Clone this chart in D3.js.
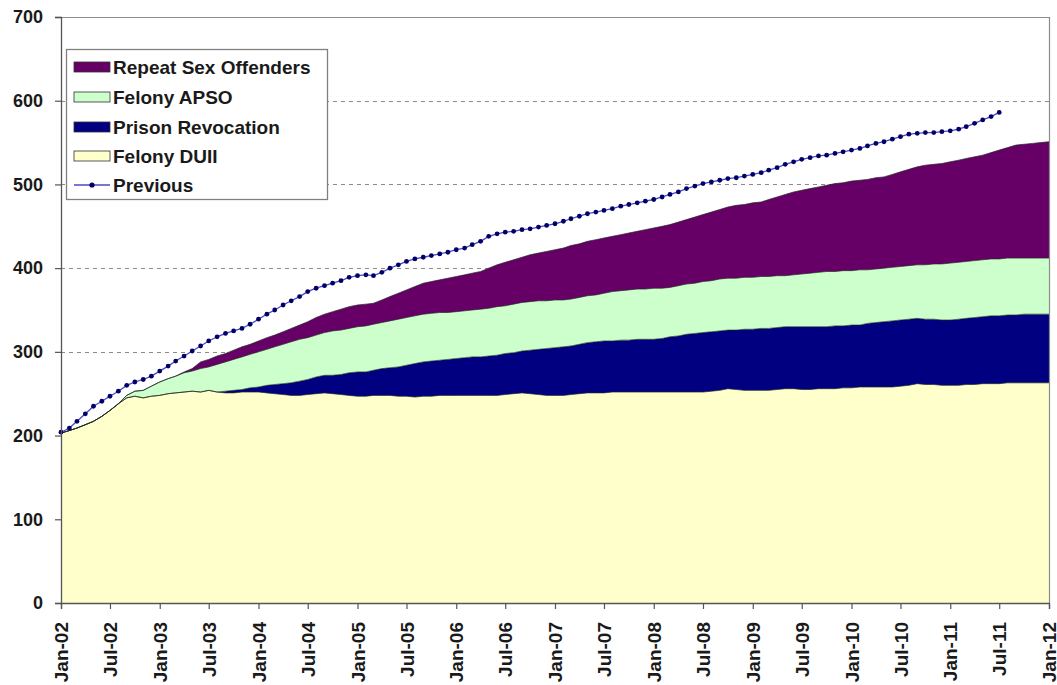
<!DOCTYPE html>
<html>
<head>
<meta charset="utf-8">
<script src="https://cdn.jsdelivr.net/npm/d3@7"></script>
<style>
  html, body { margin: 0; padding: 0; background: #fff; }
  svg { display: block; }
  text { font-family: "Liberation Sans", Arial, sans-serif; fill: #1a1a1a; }
</style>
</head>
<body>
<svg id="chart" width="1057" height="685"></svg>
<script>
// Monthly population, Jan 2002 – Jan 2012 (121 months)
const startYear = 2002;
const monthCount = 121;

const feloniesDUII = [
  203, 206, 209, 213, 217, 223, 230, 238, 245, 247, 245, 247,
  248, 250, 251, 252, 253, 252, 254, 252, 251, 251, 252, 252,
  252, 251, 250, 249, 248, 248, 249, 250, 251, 250, 249, 248,
  247, 247, 248, 248, 248, 247, 247, 246, 247, 247, 248, 248,
  248, 248, 248, 248, 248, 248, 249, 250, 251, 250, 249, 248,
  248, 248, 249, 250, 251, 251, 251, 252, 252, 252, 252, 252,
  252, 252, 252, 252, 252, 252, 252, 253, 254, 256, 255, 254,
  254, 254, 254, 255, 256, 256, 255, 255, 256, 256, 256, 257,
  257, 258, 258, 258, 258, 258, 259, 260, 262, 261, 261, 260,
  260, 260, 261, 261, 262, 262, 262, 263, 263, 263, 263, 263, 263
];

const prisonRevocation = [
  0, 0, 0, 0, 0, 0, 0, 0, 0, 0, 0, 0,
  0, 0, 0, 0, 0, 0, 0, 0, 2, 3, 3, 5,
  6, 9, 11, 13, 15, 17, 18, 20, 21, 22, 24, 27,
  29, 29, 30, 32, 33, 35, 37, 40, 41, 42, 42, 43,
  44, 45, 46, 46, 47, 48, 49, 49, 50, 52, 54, 56,
  57, 58, 58, 59, 60, 61, 62, 61, 62, 62, 63, 63,
  63, 64, 66, 67, 69, 70, 71, 71, 71, 70, 71, 73,
  73, 74, 74, 74, 74, 74, 75, 75, 74, 74, 75, 74,
  75, 74, 76, 77, 78, 79, 79, 79, 78, 78, 78, 78,
  78, 79, 79, 80, 80, 81, 81, 81, 81, 82, 82, 82, 82
];

const felonyAPSO = [
  0, 0, 0, 0, 0, 0, 0, 0, 3, 6, 9, 12,
  16, 18, 20, 23, 24, 28, 28, 33, 35, 37, 39, 40,
  42, 43, 45, 47, 49, 50, 50, 50, 51, 53, 53, 53,
  54, 55, 55, 55, 56, 57, 57, 57, 57, 57, 57, 56,
  56, 56, 56, 57, 57, 58, 57, 58, 58, 58, 58, 57,
  57, 56, 56, 56, 56, 56, 57, 59, 59, 60, 60, 60,
  61, 60, 59, 60, 60, 60, 61, 61, 62, 62, 62, 62,
  62, 62, 62, 62, 61, 62, 63, 64, 65, 66, 65, 66,
  65, 66, 64, 64, 64, 64, 64, 64, 64, 65, 66, 67,
  68, 68, 68, 68, 68, 68, 68, 68, 68, 67, 67, 67, 67
];

const repeatSexOffenders = [
  0, 0, 0, 0, 0, 0, 0, 0, 0, 0, 0, 0,
  0, 0, 0, 1, 3, 8, 9, 10, 10, 11, 12, 12,
  13, 14, 14, 15, 16, 17, 19, 21, 22, 23, 25, 26,
  26, 26, 25, 27, 29, 31, 33, 35, 37, 38, 39, 41,
  42, 43, 44, 45, 48, 50, 52, 53, 54, 56, 57, 59,
  60, 62, 64, 64, 65, 66, 66, 66, 67, 68, 69, 71,
  72, 74, 75, 76, 77, 79, 80, 82, 83, 85, 87, 87,
  89, 89, 92, 94, 97, 99, 100, 101, 102, 103, 105, 105,
  107, 107, 108, 109, 109, 111, 113, 115, 117, 119, 119, 120,
  121, 122, 123, 124, 125, 127, 130, 132, 135, 136, 137, 138, 139
];

// Earlier projection, Jan 2002 – Jul 2011
const previous = [
  204, 209, 217, 226, 235, 241, 247, 253, 260, 264, 267, 271,
  277, 283, 289, 295, 301, 307, 313, 318, 322, 325, 328, 333,
  339, 345, 350, 356, 361, 366, 372, 376, 379, 382, 385, 389,
  391, 392, 391, 395, 400, 404, 408, 411, 413, 415, 417, 419,
  422, 424, 428, 432, 438, 441, 443, 444, 446, 447, 449, 451,
  453, 456, 459, 462, 465, 467, 469, 471, 474, 476, 478, 480,
  482, 485, 488, 491, 495, 498, 501, 503, 505, 507, 508, 510,
  512, 514, 517, 520, 524, 527, 530, 532, 534, 535, 537, 539,
  541, 543, 546, 549, 551, 554, 557, 560, 561, 562, 562, 563,
  564, 566, 569, 573, 577, 581, 586
];

const xTickLabels = [
  "Jan-02", "Jul-02", "Jan-03", "Jul-03", "Jan-04", "Jul-04", "Jan-05",
  "Jul-05", "Jan-06", "Jul-06", "Jan-07", "Jul-07", "Jan-08", "Jul-08",
  "Jan-09", "Jul-09", "Jan-10", "Jul-10", "Jan-11", "Jul-11", "Jan-12"
];
const yTicks = [0, 100, 200, 300, 400, 500, 600, 700];

const seriesKeys = ["duii", "prison", "apso", "rso"];
const seriesNames = {
  rso: "Repeat Sex Offenders",
  apso: "Felony APSO",
  prison: "Prison Revocation",
  duii: "Felony DUII"
};
const seriesColors = {
  duii: "#ffffcc",
  prison: "#000080",
  apso: "#ccffcc",
  rso: "#660066"
};
const previousColor = "#4a4ac8";
const markerColor = "#000066";

// ---- build rows ----
const months = d3.range(monthCount).map(i => new Date(startYear, i, 1));
const rows = months.map((date, i) => ({
  date,
  duii: feloniesDUII[i],
  prison: prisonRevocation[i],
  apso: felonyAPSO[i],
  rso: repeatSexOffenders[i]
}));
const previousRows = previous.map((v, i) => ({ date: months[i], value: v }));

const svg = d3.select("#chart");
const plotLeft = 61, plotRight = 1049, plotTop = 17, plotBottom = 603;

const x = d3.scaleTime()
  .domain([months[0], months[monthCount - 1]])
  .range([plotLeft, plotRight]);
const y = d3.scaleLinear().domain([0, 700]).range([plotBottom, plotTop]);

// gridlines
svg.append("g")
  .selectAll("line")
  .data(yTicks.filter(v => v > 0 && v < 700))
  .join("line")
  .attr("x1", plotLeft).attr("x2", plotRight)
  .attr("y1", d => Math.round(y(d)) + 0.5).attr("y2", d => Math.round(y(d)) + 0.5)
  .attr("stroke", "#8a8a8a")
  .attr("stroke-width", 1.2)
  .attr("stroke-dasharray", "4,4");

// stacked areas
const stacked = d3.stack().keys(seriesKeys)(rows);
const area = d3.area()
  .x(d => x(d.data.date))
  .y0(d => y(d[0]))
  .y1(d => y(d[1]));
const edge = d3.line()
  .x(d => x(d.data.date))
  .y(d => y(d[1]));

const layers = svg.append("g");
layers.selectAll("path.area")
  .data(stacked)
  .join("path")
  .attr("class", "area")
  .attr("fill", d => seriesColors[d.key])
  .attr("d", area);
layers.selectAll("path.edge")
  .data(stacked)
  .join("path")
  .attr("class", "edge")
  .attr("fill", "none")
  .attr("stroke", "#1e2a1e")
  .attr("stroke-width", 0.8)
  .attr("stroke-opacity", 0.85)
  .attr("d", edge);

// plot frame (top and right)
svg.append("path")
  .attr("d", `M${plotLeft},${plotTop + 0.5}H${plotRight + 0.5}V${plotBottom}`)
  .attr("fill", "none")
  .attr("stroke", "#8c8c8c")
  .attr("stroke-width", 1.2);

// previous projection
const prevLine = d3.line().x(d => x(d.date)).y(d => y(d.value));
svg.append("path")
  .datum(previousRows)
  .attr("fill", "none")
  .attr("stroke", previousColor)
  .attr("stroke-width", 1.3)
  .attr("d", prevLine);
svg.append("g")
  .selectAll("circle")
  .data(previousRows)
  .join("circle")
  .attr("cx", d => x(d.date))
  .attr("cy", d => y(d.value))
  .attr("r", 2.4)
  .attr("fill", markerColor);

// y axis
const yAxis = svg.append("g")
  .attr("transform", `translate(${plotLeft},0)`)
  .call(d3.axisLeft(y).tickValues(yTicks).tickSize(6).tickPadding(12).tickFormat(d3.format("d")));
yAxis.select(".domain").attr("stroke", "#555").attr("stroke-width", 1.3);
yAxis.selectAll(".tick line").attr("stroke", "#555").attr("stroke-width", 1.2);
yAxis.selectAll("text")
  .attr("font-size", 18)
  .attr("font-weight", "bold")
  .attr("fill", "#1a1a1a");

// x axis
const parseTick = d3.timeParse("%b-%y");
const xTickDates = xTickLabels.map(parseTick);
const xAxis = svg.append("g")
  .attr("transform", `translate(0,${plotBottom})`)
  .call(d3.axisBottom(x).tickValues(xTickDates).tickSize(6).tickFormat(d3.timeFormat("%b-%y")));
xAxis.select(".domain").attr("stroke", "#555").attr("stroke-width", 1.3);
xAxis.selectAll(".tick line").attr("stroke", "#555").attr("stroke-width", 1.2);
xAxis.selectAll("text")
  .attr("font-size", 19)
  .attr("font-weight", "bold")
  .attr("fill", "#1a1a1a")
  .attr("text-anchor", "end")
  .attr("transform", "translate(0,19) rotate(-90)")
  .attr("x", 0).attr("y", 0)
  .attr("dy", "0.35em");

// legend
const legend = svg.append("g");
legend.append("rect")
  .attr("x", 66.5).attr("y", 49.5)
  .attr("width", 261).attr("height", 150)
  .attr("fill", "#fff")
  .attr("stroke", "#808080")
  .attr("stroke-width", 1.3);

const legendItems = ["rso", "apso", "prison", "duii", "previous"];
const rowY = [67, 97, 127, 156, 185];
legendItems.forEach((key, i) => {
  const g = legend.append("g").attr("transform", `translate(0,${rowY[i]})`);
  if (key === "previous") {
    g.append("line")
      .attr("x1", 74).attr("x2", 110).attr("y1", 0).attr("y2", 0)
      .attr("stroke", previousColor).attr("stroke-width", 1.3);
    g.append("circle").attr("cx", 92).attr("cy", 0).attr("r", 2.6).attr("fill", markerColor);
  } else {
    g.append("rect")
      .attr("x", 74).attr("y", -5).attr("width", 36).attr("height", 10)
      .attr("fill", seriesColors[key])
      .attr("stroke", "#333").attr("stroke-width", 0.8);
  }
  g.append("text")
    .attr("x", 113).attr("y", 0).attr("dy", "0.35em")
    .attr("font-size", 19)
    .attr("font-weight", "bold")
    .text(key === "previous" ? "Previous" : seriesNames[key]);
});
</script>
</body>
</html>
